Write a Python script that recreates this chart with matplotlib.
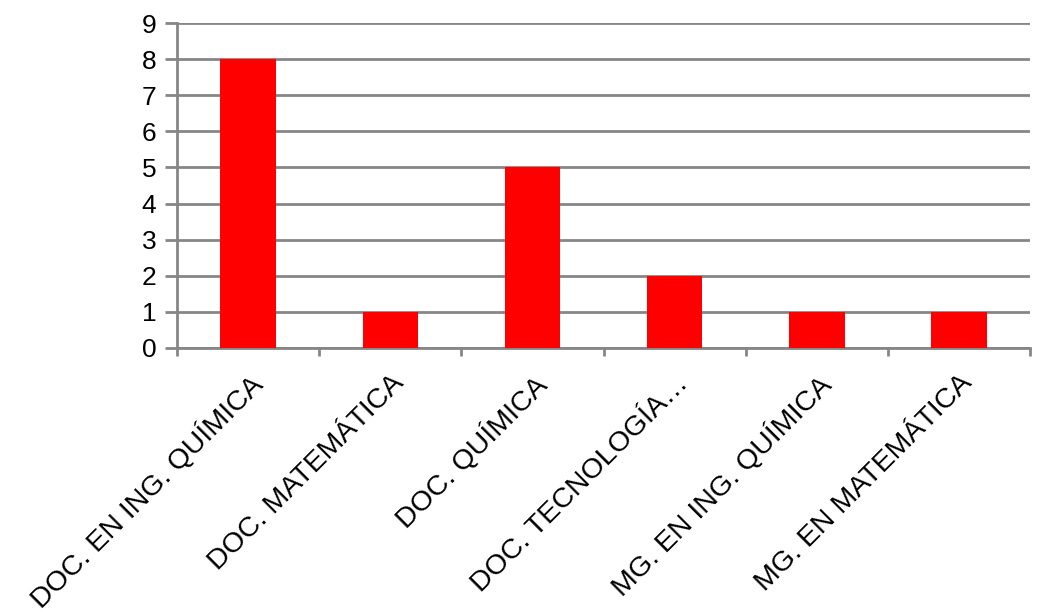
import matplotlib
matplotlib.use("Agg")
import matplotlib.pyplot as plt
import numpy as np

categories = ["DOC. EN ING. QUÍMICA", "DOC. MATEMÁTICA", "DOC. QUÍMICA",
              "DOC. TECNOLOGÍA…", "MG. EN ING. QUÍMICA", "MG. EN MATEMÁTICA"]
values = [8, 1, 5, 2, 1, 1]
yticks = list(range(0, 10))

plt.rcParams['font.family'] = ['Liberation Sans', 'DejaVu Sans']
fig = plt.figure(figsize=(10.37, 6.12), dpi=100)
ax = fig.add_axes([0.1707, 0.4314, 0.8226, 0.531])

x = np.arange(len(categories))
ax.bar(x, values, width=0.39, color='#ff0000', zorder=3)
ax.set_xlim(-0.5, len(categories) - 0.5)
ax.set_ylim(0, 9)
ax.set_yticks(yticks)
ax.yaxis.grid(True, color='#868686', linewidth=2, zorder=0)
for s in ['top', 'right']:
    ax.spines[s].set_visible(False)
for s in ['left', 'bottom']:
    ax.spines[s].set_color('#868686')
    ax.spines[s].set_linewidth(2)
ax.tick_params(axis='y', length=9, width=2, color='#868686', labelsize=19, pad=6)
ax.set_xticks(np.arange(-0.5, len(categories) + 0.5, 1))
ax.set_xticklabels([])
ax.tick_params(axis='x', length=6, width=2, color='#868686')
ax.set_xticks(x, minor=True)
ax.set_xticklabels(categories, minor=True, rotation=45, ha='right',
                   rotation_mode='anchor', fontsize=20.5)
ax.tick_params(axis='x', which='minor', length=0, pad=16)
fig.savefig("out.png", dpi=100)
